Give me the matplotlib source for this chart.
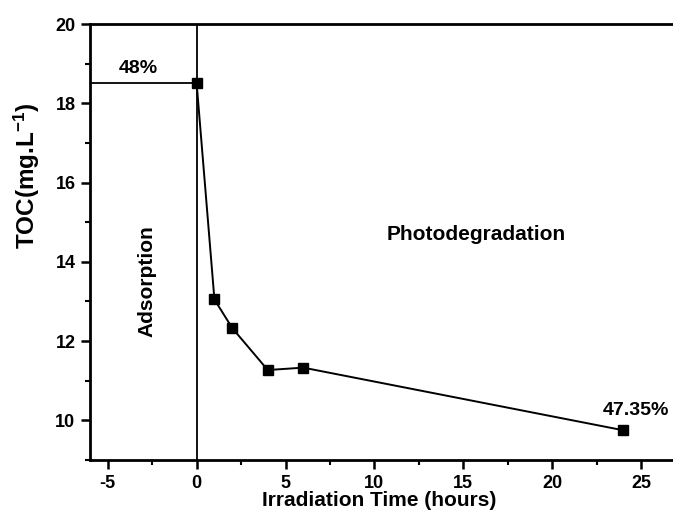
import matplotlib
matplotlib.use("Agg")
import matplotlib.pyplot as plt
from matplotlib.ticker import MultipleLocator

plt.rcParams['font.family'] = ['Liberation Sans', 'DejaVu Sans']
plt.rcParams['font.weight'] = 'bold'
plt.rcParams['axes.unicode_minus'] = False
plt.rcParams['mathtext.fontset'] = 'custom'
plt.rcParams['mathtext.rm'] = 'Liberation Sans:bold'
plt.rcParams['mathtext.bf'] = 'Liberation Sans:bold'
plt.rcParams['mathtext.default'] = 'rm'

time_h = [0, 1, 2, 4, 6, 24]
toc = [18.5, 13.05, 12.33, 11.27, 11.33, 9.75]
xticks = [-5, 0, 5, 10, 15, 20, 25]
yticks = [10, 12, 14, 16, 18, 20]

fig = plt.figure(figsize=(6.73, 5.14), dpi=100)
W, H = 673, 514
x0px, x1px = 90, 676.6
ytop, ybot = 24, 460
ax = fig.add_axes([x0px / W, 1 - ybot / H, (x1px - x0px) / W, (ybot - ytop) / H])

ax.plot(time_h, toc, color='black', lw=1.4, marker='s', markersize=6.5, zorder=3)
ax.axvline(0, color='black', lw=1.3, zorder=2)
ax.plot([-6, 0], [18.5, 18.5], color='black', lw=1.3, zorder=2)

ax.set_xlim(-6, 27)
ax.set_ylim(9, 20)
ax.set_xticks(xticks)
ax.set_yticks(yticks)
ax.xaxis.set_minor_locator(MultipleLocator(2.5))
ax.yaxis.set_minor_locator(MultipleLocator(1))

for s in ax.spines.values():
    s.set_linewidth(2.0)

ax.tick_params(which='major', direction='out', length=6.5, width=1.8, labelsize=13, pad=4)
ax.tick_params(which='minor', direction='out', length=3.5, width=1.5)
ax.tick_params(top=False, right=False)
for lab in ax.get_xticklabels() + ax.get_yticklabels():
    lab.set_fontweight('bold')

fig.text(379 / W, 1 - 506 / H, 'Irradiation Time (hours)', fontsize=15, fontweight='bold',
         ha='center', va='baseline')
fig.text(27 / W, 1 - 176 / H, 'TOC(mg.L$^{-1}$)', fontsize=17.5, fontweight='bold',
         ha='center', va='center', rotation=90)

ax.text(-3.26, 18.87, '48%', fontsize=14, fontweight='bold', ha='center', va='center')
ax.text(24.7, 10.24, '47.35%', fontsize=14, fontweight='bold', ha='center', va='center')
ax.text(-2.77, 13.52, 'Adsorption', fontsize=15, fontweight='bold', ha='center', va='center', rotation=90)
ax.text(15.7, 14.68, 'Photodegradation', fontsize=15, fontweight='bold', ha='center', va='center')

fig.savefig('out.png', dpi=100)
